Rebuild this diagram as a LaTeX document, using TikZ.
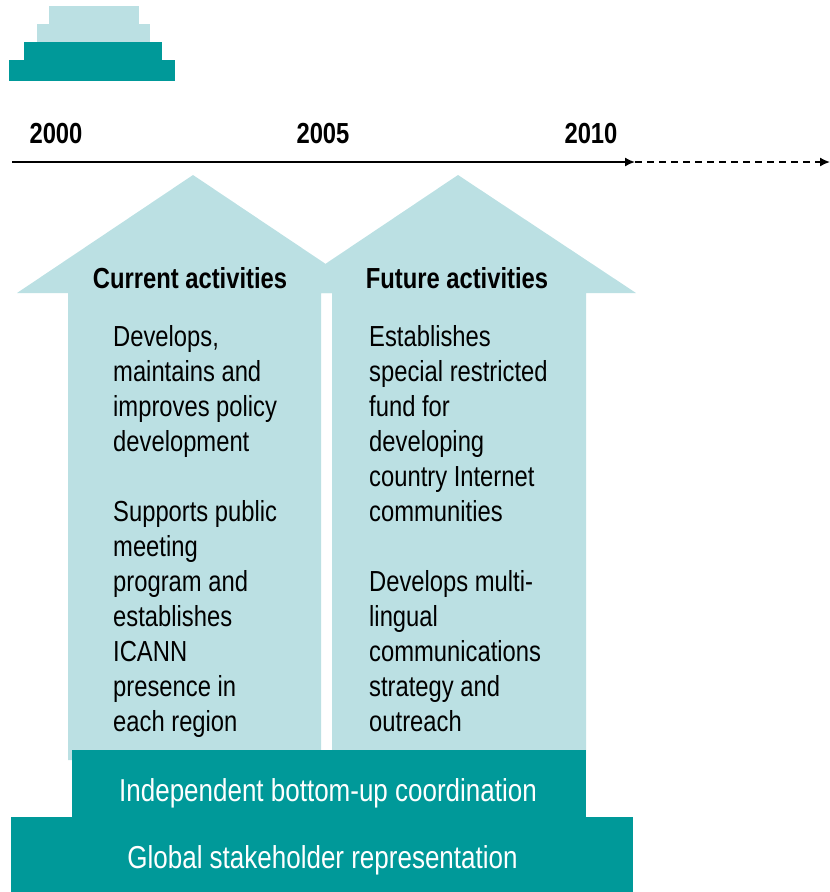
\documentclass[tikz,border=0pt]{standalone}
\usepackage{fontspec}
\setmainfont{Liberation Sans}[FakeStretch=0.82]
\usetikzlibrary{arrows.meta}
\definecolor{paleteal}{HTML}{BBE0E3}
\definecolor{deepteal}{HTML}{009999}
\tikzstyle{arrowbody} = [fill=paleteal]
\tikzstyle{basebar} = [fill=deepteal]
\tikzstyle{bartext} = [text=white, inner sep=0pt, anchor=base, font=\fontsize{31.7}{36}\selectfont]
\tikzstyle{yeartext} = [inner sep=0pt, anchor=base, font=\bfseries\fontsize{29}{35}\selectfont]
\tikzstyle{headtext} = [inner sep=0pt, anchor=base, font=\bfseries\fontsize{29}{35}\selectfont]
\tikzstyle{bodytext} = [inner sep=0pt, anchor=base west, align=left, font=\fontsize{29}{35}\selectfont]
\tikzstyle{timeline} = [line width=1.6pt, -{Latex[length=10pt,width=9pt]}]

\begin{document}
\begin{tikzpicture}[x=1pt, y=-1pt]
\useasboundingbox (0,0) rectangle (830,892);
% logo steps
\fill[basebar] (9,60) rectangle (175,81);
\fill[basebar] (24,42) rectangle (162,60);
\fill[arrowbody] (37,24) rectangle (150,42);
\fill[arrowbody] (49,6) rectangle (139,24);
% time axis
\coordinate (t0) at (12,162);
\coordinate (t1) at (635,162);
\coordinate (t2) at (830,162);
\draw[timeline] (t0) -- (t1);
\draw[timeline, dashed, dash pattern=on 7pt off 5pt] (t1) -- (t2);
\node[yeartext] (y2000) at (56,143) {2000};
\node[yeartext] (y2005) at (323,143) {2005};
\node[yeartext] (y2010) at (591,143) {2010};
% the two arrows
\fill[arrowbody] (68,760) -- (68,293) -- (17,293) -- (193,175) -- (369,293)
    -- (321,293) -- (321,760) -- cycle;
\fill[arrowbody] (332,760) -- (332,293) -- (282,293) -- (458,175) -- (636,293)
    -- (586,293) -- (586,760) -- cycle;
\node[headtext] (curhead) at (190,288) {Current activities};
\node[headtext] (futhead) at (457,288) {Future activities};
% base anchor = last line
\node[bodytext] (curtext) at (113,731) {Develops,\\maintains and\\improves policy\\development\\[35pt]
    Supports public\\meeting\\program and\\establishes\\ICANN\\presence in\\each region};
\node[bodytext] (futtext) at (369,731) {Establishes\\special restricted\\fund for\\developing\\country Internet\\communities\\[35pt]
    Develops multi-\\lingual\\communications\\strategy and\\outreach};
% base bars
\fill[basebar] (72,750) rectangle (586,817);
\fill[basebar] (11,817) rectangle (633,892);
\node[bartext] (coord) at (328,801) {Independent bottom-up coordination};
\node[bartext] (repr) at (322.5,868) {Global stakeholder representation};
\end{tikzpicture}
\end{document}
